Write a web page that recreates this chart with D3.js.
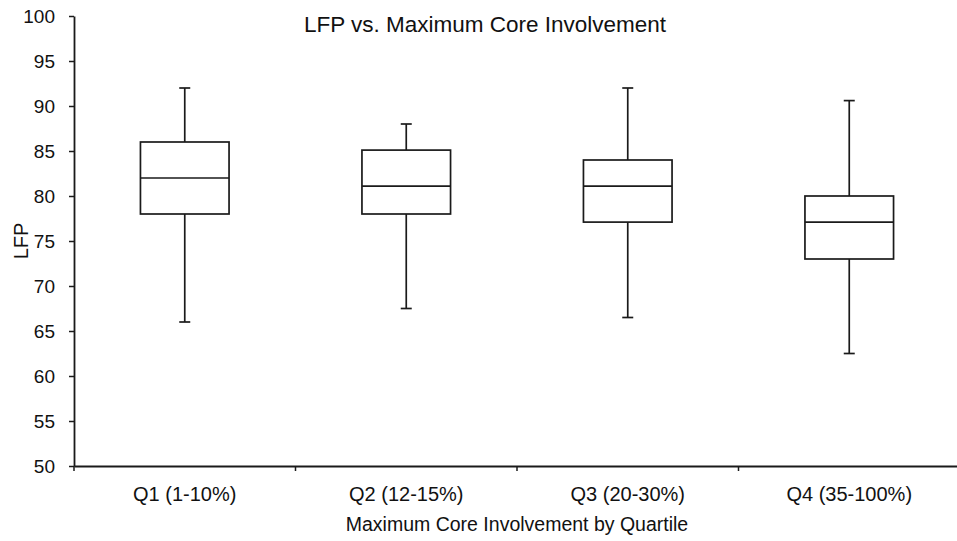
<!DOCTYPE html>
<html>
<head>
<meta charset="utf-8">
<script src="https://cdn.jsdelivr.net/npm/d3@7"></script>
<style>
    body { margin: 0; background: #fff; }
    svg { display: block; font-family: "Liberation Sans", Arial, sans-serif; }
    .axis path, .axis line { stroke: #1a1a1a; }
    .axis text { fill: #111; }
</style>
</head>
<body>
<div id="chart"></div>
<script>
// Box plot summaries
const categories = ["Q1 (1-10%)", "Q2 (12-15%)", "Q3 (20-30%)", "Q4 (35-100%)"];
const whiskerLow  = [66, 67.5, 66.5, 62.5];
const quartile1   = [78, 78, 77.1, 73];
const medians     = [82, 81.1, 81.1, 77.1];
const quartile3   = [86, 85.1, 84, 80];
const whiskerHigh = [92, 88, 92, 90.6];
const yTicks = [50, 55, 60, 65, 70, 75, 80, 85, 90, 95, 100];

const width = 957, height = 541;
const margin = { top: 16, right: -3, bottom: 75, left: 74 };

const boxes = categories.map((c, i) => ({
    name: c,
    lo: whiskerLow[i], q1: quartile1[i], med: medians[i], q3: quartile3[i], hi: whiskerHigh[i]
}));

const svg = d3.select("#chart")
    .append("svg")
    .attr("width", width)
    .attr("height", height);

const x = d3.scaleBand()
    .domain(categories)
    .range([margin.left, width - margin.right]);

const y = d3.scaleLinear()
    .domain([50, 100])
    .range([height - margin.bottom, margin.top]);

// Y axis
svg.append("g")
    .attr("class", "axis")
    .attr("transform", `translate(${margin.left},0)`)
    .call(d3.axisLeft(y).tickValues(yTicks).tickSize(5).tickPadding(14).tickSizeOuter(0))
    .call(g => g.select(".domain").attr("stroke-width", 1.8))
    .call(g => g.selectAll(".tick line").attr("stroke-width", 1.5))
    .call(g => g.selectAll("text").attr("font-size", 19));

// X axis: labels at band centres, ticks at band boundaries
const xAxis = svg.append("g")
    .attr("class", "axis")
    .attr("transform", `translate(0,${y(50)})`)
    .call(d3.axisBottom(x).tickSize(0).tickPadding(21).tickSizeOuter(0))
    .call(g => g.select(".domain").attr("stroke-width", 1.8))
    .call(g => g.selectAll("text").attr("font-size", 20).attr("dy", "0.68em"));

xAxis.selectAll(".boundary")
    .data(categories)
    .enter()
    .append("line")
    .attr("class", "boundary")
    .attr("x1", d => x(d))
    .attr("x2", d => x(d))
    .attr("y1", 0)
    .attr("y2", 5)
    .attr("stroke", "#1a1a1a")
    .attr("stroke-width", 1.5);

// Boxes
const boxW = x.bandwidth() * 0.4;
const capW = 11;

const g = svg.selectAll(".box")
    .data(boxes)
    .enter()
    .append("g")
    .attr("class", "box")
    .attr("transform", d => `translate(${x(d.name) + x.bandwidth() / 2},0)`)
    .attr("stroke", "#1a1a1a")
    .attr("stroke-width", 1.7)
    .attr("fill", "none");

g.append("line")
    .attr("y1", d => y(d.hi)).attr("y2", d => y(d.q3));
g.append("line")
    .attr("y1", d => y(d.q1)).attr("y2", d => y(d.lo));
g.append("line")
    .attr("x1", -capW / 2).attr("x2", capW / 2)
    .attr("y1", d => y(d.hi)).attr("y2", d => y(d.hi));
g.append("line")
    .attr("x1", -capW / 2).attr("x2", capW / 2)
    .attr("y1", d => y(d.lo)).attr("y2", d => y(d.lo));
g.append("rect")
    .attr("x", -boxW / 2)
    .attr("width", boxW)
    .attr("y", d => y(d.q3))
    .attr("height", d => y(d.q1) - y(d.q3))
    .attr("fill", "#fff");
g.append("line")
    .attr("x1", -boxW / 2).attr("x2", boxW / 2)
    .attr("y1", d => y(d.med)).attr("y2", d => y(d.med));

// Titles
svg.append("text")
    .attr("x", 485)
    .attr("y", 32)
    .attr("text-anchor", "middle")
    .attr("font-size", 22.5)
    .attr("fill", "#111")
    .text("LFP vs. Maximum Core Involvement");

svg.append("text")
    .attr("x", 517)
    .attr("y", 531)
    .attr("text-anchor", "middle")
    .attr("font-size", 19.5)
    .attr("fill", "#111")
    .text("Maximum Core Involvement by Quartile");

svg.append("text")
    .attr("transform", `translate(28,${(y(50) + y(100)) / 2}) rotate(-90)`)
    .attr("text-anchor", "middle")
    .attr("font-size", 20)
    .attr("fill", "#111")
    .text("LFP");
</script>
</body>
</html>
